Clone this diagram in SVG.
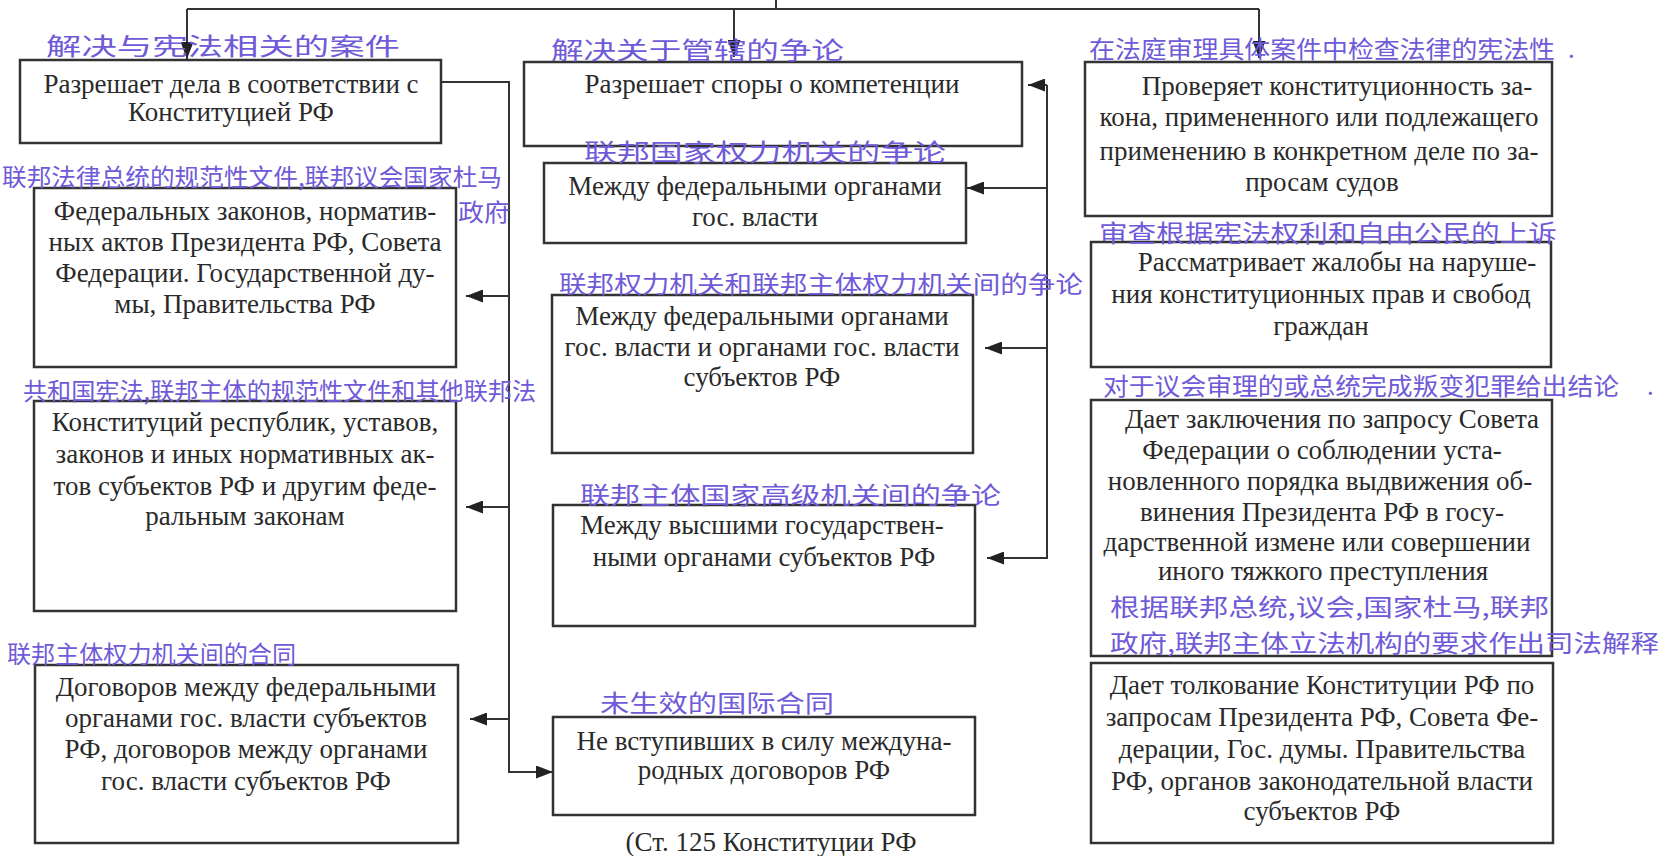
<svg xmlns="http://www.w3.org/2000/svg" width="1666" height="856" viewBox="0 0 1666 856">
<defs>
<marker id="ah" viewBox="0 0 17 13" refX="17" refY="6.5" markerWidth="17" markerHeight="13" markerUnits="userSpaceOnUse" orient="auto"><path d="M0,0 L17,6.5 L0,13 Z" fill="#222"/></marker>
</defs>
<style>
.box{fill:#fff;stroke:#333;stroke-width:2.5}
.t{font-family:"Liberation Serif","Times New Roman",serif;font-size:27px;fill:#2a2a2a;text-anchor:middle}
.h{font-family:"Noto Sans CJK SC","Noto Sans CJK TC",sans-serif;font-size:24px;fill:#6f5ad8}
.c{fill:none;stroke:#333;stroke-width:2}
</style>
<rect width="1666" height="856" fill="#fff"/>
<g id="connectors">
<path class="c" d="M776,0 V9"/>
<path class="c" d="M187,9 H1259"/>
<path class="c" d="M187,9 V59" marker-end="url(#ah)"/>
<path class="c" d="M734,9 V57" marker-end="url(#ah)"/>
<path class="c" d="M1259,9 V58" marker-end="url(#ah)"/>
<path class="c" d="M441,82 H509 V772 H553" marker-end="url(#ah)"/>
<path class="c" d="M509,296 H466" marker-end="url(#ah)"/>
<path class="c" d="M509,507 H466" marker-end="url(#ah)"/>
<path class="c" d="M509,719 H470" marker-end="url(#ah)"/>
<path class="c" d="M1047,85 V558 H987" marker-end="url(#ah)"/>
<path class="c" d="M1047,85 H1028" marker-end="url(#ah)"/>
<path class="c" d="M1047,188 H967" marker-end="url(#ah)"/>
<path class="c" d="M1047,348 H985" marker-end="url(#ah)"/>
</g>
<g id="n1">
<rect class="box" x="20" y="60" width="421" height="83"/>
<text class="t" x="231" y="93">Разрешает дела в соответствии с</text>
<text class="t" x="231" y="121">Конституцией РФ</text>
</g>
<g id="n2">
<rect class="box" x="524" y="62" width="498" height="84"/>
<text class="t" x="772" y="93">Разрешает споры о компетенции</text>
</g>
<g id="n3">
<rect class="box" x="1085" y="62" width="467" height="154"/>
<text class="t" x="1337" y="95">Проверяет конституционность за-</text>
<text class="t" x="1319" y="126">кона, примененного или подлежащего</text>
<text class="t" x="1319" y="160">применению в конкретном деле по за-</text>
<text class="t" x="1322" y="191">просам судов</text>
</g>
<g id="n4">
<rect class="box" x="34" y="188" width="422" height="179"/>
<text class="t" x="245" y="220">Федеральных законов, норматив-</text>
<text class="t" x="245" y="251">ных актов Президента РФ, Совета</text>
<text class="t" x="245" y="282">Федерации. Государственной ду-</text>
<text class="t" x="245" y="313">мы, Правительства РФ</text>
</g>
<g id="n5">
<rect class="box" x="544" y="163" width="422" height="80"/>
<text class="t" x="755" y="195">Между федеральными органами</text>
<text class="t" x="755" y="226">гос. власти</text>
</g>
<g id="n6">
<rect class="box" x="552" y="295" width="421" height="158"/>
<text class="t" x="762" y="325">Между федеральными органами</text>
<text class="t" x="762" y="356">гос. власти и органами гос. власти</text>
<text class="t" x="762" y="386">субъектов РФ</text>
</g>
<g id="n7">
<rect class="box" x="1091" y="242" width="460" height="125"/>
<text class="t" x="1337" y="271">Рассматривает жалобы на наруше-</text>
<text class="t" x="1321" y="303">ния конституционных прав и свобод</text>
<text class="t" x="1321" y="335">граждан</text>
</g>
<g id="n8">
<rect class="box" x="34" y="401" width="422" height="210"/>
<text class="t" x="245" y="431">Конституций республик, уставов,</text>
<text class="t" x="245" y="463">законов и иных нормативных ак-</text>
<text class="t" x="245" y="495">тов субъектов РФ и другим феде-</text>
<text class="t" x="245" y="525">ральным законам</text>
</g>
<g id="n9">
<rect class="box" x="1091" y="400" width="461" height="256"/>
<text class="t" x="1332" y="428">Дает заключения по запросу Совета</text>
<text class="t" x="1322" y="459">Федерации о соблюдении уста-</text>
<text class="t" x="1320" y="490">новленного порядка выдвижения об-</text>
<text class="t" x="1322" y="521">винения Президента РФ в госу-</text>
<text class="t" x="1317" y="551">дарственной измене или совершении</text>
<text class="t" x="1323" y="580">иного тяжкого преступления</text>
</g>
<g id="n10">
<rect class="box" x="553" y="505" width="422" height="121"/>
<text class="t" x="762" y="534">Между высшими государствен-</text>
<text class="t" x="764" y="566">ными органами субъектов РФ</text>
</g>
<g id="n11">
<rect class="box" x="35" y="665" width="423" height="178"/>
<text class="t" x="246" y="696">Договоров между федеральными</text>
<text class="t" x="246" y="727">органами гос. власти субъектов</text>
<text class="t" x="246" y="758">РФ, договоров между органами</text>
<text class="t" x="246" y="790">гос. власти субъектов РФ</text>
</g>
<g id="n12">
<rect class="box" x="553" y="717" width="422" height="98"/>
<text class="t" x="764" y="750">Не вступивших в силу междуна-</text>
<text class="t" x="764" y="779">родных договоров РФ</text>
</g>
<g id="n13">
<rect class="box" x="1091" y="663" width="462" height="180"/>
<text class="t" x="1322" y="694">Дает толкование Конституции РФ по</text>
<text class="t" x="1322" y="726">запросам Президента РФ, Совета Фе-</text>
<text class="t" x="1322" y="758">дерации, Гос. думы. Правительства</text>
<text class="t" x="1322" y="790">РФ, органов законодательной власти</text>
<text class="t" x="1322" y="820">субъектов РФ</text>
</g>
<g id="source">
<text class="t" x="771" y="851">(Ст. 125 Конституции РФ</text>
</g>
<g id="annotations">
<text class="h" x="46" y="55" textLength="354" lengthAdjust="spacingAndGlyphs">解决与宪法相关的案件</text>
<text class="h" x="551" y="59" textLength="293" lengthAdjust="spacingAndGlyphs">解决关于管辖的争论</text>
<text class="h" x="1089" y="58" textLength="466" lengthAdjust="spacingAndGlyphs">在法庭审理具体案件中检查法律的宪法性</text>
<text class="h" x="1568" y="58">.</text>
<text class="h" x="2" y="186" textLength="500" lengthAdjust="spacingAndGlyphs">联邦法律总统的规范性文件,联邦议会国家杜马</text>
<text class="h" x="458" y="221" textLength="52" lengthAdjust="spacingAndGlyphs">政府</text>
<text class="h" x="584" y="161" textLength="362" lengthAdjust="spacingAndGlyphs">联邦国家权力机关的争论</text>
<text class="h" x="1099" y="242" textLength="458" lengthAdjust="spacingAndGlyphs">审查根据宪法权利和自由公民的上诉</text>
<text class="h" x="559" y="293" textLength="524" lengthAdjust="spacingAndGlyphs">联邦权力机关和联邦主体权力机关间的争论</text>
<text class="h" x="23" y="400" textLength="513" lengthAdjust="spacingAndGlyphs">共和国宪法,联邦主体的规范性文件和其他联邦法</text>
<text class="h" x="1103" y="395" textLength="516" lengthAdjust="spacingAndGlyphs">对于议会审理的或总统完成叛变犯罪给出结论</text>
<text class="h" x="1647" y="395">.</text>
<text class="h" x="580" y="504" textLength="421" lengthAdjust="spacingAndGlyphs">联邦主体国家高级机关间的争论</text>
<text class="h" x="1110" y="616" textLength="439" lengthAdjust="spacingAndGlyphs">根据联邦总统,议会,国家杜马,联邦</text>
<text class="h" x="1110" y="652" textLength="549" lengthAdjust="spacingAndGlyphs">政府,联邦主体立法机构的要求作出司法解释</text>
<text class="h" x="7" y="663" textLength="289" lengthAdjust="spacingAndGlyphs">联邦主体权力机关间的合同</text>
<text class="h" x="600" y="712" textLength="234" lengthAdjust="spacingAndGlyphs">未生效的国际合同</text>
</g>
</svg>
